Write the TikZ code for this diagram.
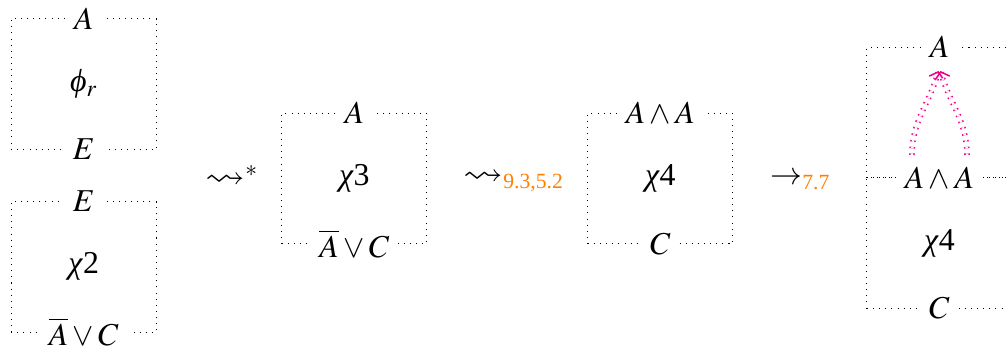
\documentclass[tikz,border=0pt]{standalone}
\usepackage{amsmath}
\usepackage{graphicx}
\usepackage{mathptmx}
\usepackage{amssymb}
\usepackage{fontspec}
\setmainfont{Liberation Serif}
\usetikzlibrary{arrows.meta, positioning}

\newcommand{\gchi}{\textit{χ}}
\newcommand{\rulenum}[1]{\mbox{\fontsize{8.5}{9}\selectfont\color{orange}#1}}
\newcommand{\wavy}{\mathrel{\scalebox{1.25}[1.1]{$\leadsto$}}}

\begin{document}
\begin{tikzpicture}[>=Stealth, font=\fontsize{12.5}{14}\selectfont,
    box/.style={draw, dotted, minimum width=2cm, minimum height=1.8cm,
      inner sep=0pt, outer sep=0pt},
    lbl/.style={fill=white, inner xsep=3.5pt, inner ysep=1.5pt},
    rewr/.style={anchor=west, inner sep=0pt},
    flow/.style={-{Straight Barb[length=2.5pt, width=6pt]}, draw=magenta,
      line width=0.6pt, double, double distance=1pt,
      dotted, shorten >=1.5pt, shorten <=1pt}]

  \useasboundingbox (0,0) rectangle (13.887,4.813);

  % left column: two stacked boxes
  \node[box] (phi) at (1.155,3.654) {\textit{ϕ}$_r$};
  \node[lbl] (phiA) at (phi.north) {$A$};
  \node[lbl] (phiE) at (phi.south) {$E$};

  \node[box, below=0.72cm of phi] (chitwo) {\gchi 2};
  \node[lbl] (chitwoE) at (chitwo.north) {$E$};
  \node[lbl] (chitwoC) at (chitwo.south) {$\overline{A}\vee C$};

  % first rewrite
  \node[rewr] (rwa) at (2.827,2.38) {$\wavy^{*}$};

  \node[box] (chithree) at (4.886,2.353) {\gchi 3};
  \node[lbl] (chithreeA) at (chithree.north) {$A$};
  \node[lbl] (chithreeC) at (chithree.south) {$\overline{A}\vee C$};

  % second rewrite
  \node[rewr] (rwb) at (6.385,2.31) {$\wavy_{\rulenum{9.3,5.2}}$};

  \node[box, right=2.22cm of chithree] (chifour) {\gchi 4};
  \node[lbl] (chifourA) at (chifour.north) {$A\wedge A$};
  \node[lbl] (chifourC) at (chifour.south) {$C$};

  % third step
  \node[rewr] (rwc) at (10.618,2.31) {$\to_{\rulenum{7.7}}$};

  % right column: box split in two
  \node[box] (top) at (12.956,3.263) {};
  \node[box, below=0pt of top] (bot) {\gchi 4};
  \node[lbl] (topA) at (top.north) {$A$};
  \node[lbl] (midA) at (top.south) {$A\wedge A$};
  \node[lbl] (botC) at (bot.south) {$C$};

  \draw[flow] ([xshift=-0.38cm, yshift=2pt]midA.north) to[out=90, in=-105] ([yshift=-2pt]topA.south);
  \draw[flow] ([xshift=0.38cm, yshift=2pt]midA.north) to[out=90, in=-75] ([yshift=-2pt]topA.south);

\end{tikzpicture}
\end{document}
